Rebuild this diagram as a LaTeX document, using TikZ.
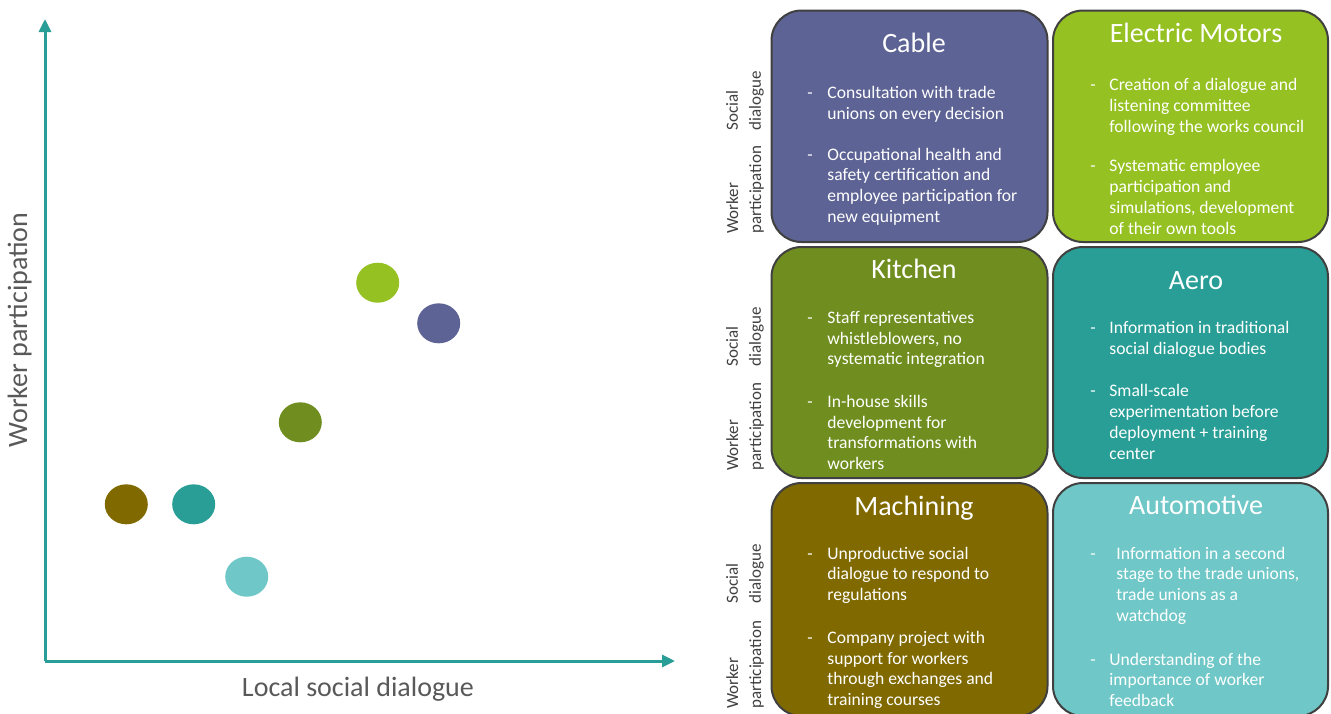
\documentclass[tikz,border=0pt]{standalone}
\usepackage{fontspec}
\setmainfont{Carlito}
\usetikzlibrary{shapes.geometric, arrows.meta}
\definecolor{cablec}{RGB}{93,99,148}
\definecolor{motorc}{RGB}{149,193,34}
\definecolor{kitchenc}{RGB}{112,142,31}
\definecolor{aeroc}{RGB}{40,158,150}
\definecolor{machc}{RGB}{128,106,0}
\definecolor{autoc}{RGB}{111,199,199}
\definecolor{edgec}{RGB}{64,64,64}
\definecolor{labelc}{RGB}{89,89,89}
\tikzset{
    card/.style={draw=edgec, line width=1pt, rounded corners=15pt},
    title/.style={anchor=base, text=white, font=\fontsize{14}{16}\selectfont, inner sep=0},
    % multi-line items sit on the baseline of their last line
    item/.style={anchor=base west, align=left, text=white, font=\fontsize{8.8}{10.4}\selectfont, inner sep=0},
    side/.style={anchor=west, rotate=90, align=left, text=edgec, font=\fontsize{8.5}{11.5}\selectfont, inner sep=0},
    dot/.style={ellipse, minimum width=21.5pt, minimum height=20pt, inner sep=0},
    axis/.style={draw=aeroc, line width=1.5pt, -{Triangle[length=6.5pt, width=6pt]}},
    axlabel/.style={text=labelc, font=\fontsize{14}{16}\selectfont, inner sep=0},
}

\begin{document}
\begin{tikzpicture}[x=0.5pt, y=-0.5pt]
\clip (0,0) rectangle (1331,713);
\fill[white] (0,0) rectangle (1331,713);

% Axes
\coordinate (o) at (45,661);
\coordinate (ytop) at (45,19);
\coordinate (xend) at (675,661);
\draw[axis] (o) -- (ytop);
\draw[axis] (o) -- (xend);
\node[axlabel, anchor=base, rotate=90] (ylab) at (27,330) {Worker participation};
\node[axlabel, anchor=base] (xlab) at (358,696) {Local social dialogue};

% Dots
\node[dot, fill=motorc] (dmotor) at (377.7,282.7) {};
\node[dot, fill=cablec] (dcable) at (438.7,323.3) {};
\node[dot, fill=kitchenc] (dkitchen) at (300.3,422.3) {};
\node[dot, fill=machc] (dmach) at (126.3,504.3) {};
\node[dot, fill=aeroc] (daero) at (193.7,504.3) {};
\node[dot, fill=autoc] (dauto) at (246.7,576.7) {};

% Cards
\draw[card, fill=cablec] (771.5,10.5) rectangle (1047.5,242);
\draw[card, fill=motorc] (1053,10.5) rectangle (1328,242);
\draw[card, fill=kitchenc] (771.5,247) rectangle (1047.5,478);
\draw[card, fill=aeroc] (1053,247) rectangle (1328,478);
\draw[card, fill=machc] (771.5,483) rectangle (1047.5,716);
\draw[card, fill=autoc] (1053,483) rectangle (1328,716);

% Row labels
\node[side] (sd1) at (745,131) {Social\\dialogue};
\node[side] (wp1) at (745,234) {Worker\\participation};
\node[side] (sd2) at (745,367) {Social\\dialogue};
\node[side] (wp2) at (745,471) {Worker\\participation};
\node[side] (sd3) at (745,604) {Social\\dialogue};
\node[side] (wp3) at (745,709) {Worker\\participation};

% Cable
\node[title] (tcable) at (914,52) {Cable};
\node[item] (c1d) at (807,98.3) {-};
\node[item] (c1) at (827,119.1) {Consultation with trade\\unions on every decision};
\node[item] (c2d) at (807,160) {-};
\node[item] (c2) at (827,222.4) {Occupational health and\\safety certification and\\employee participation for\\new equipment};

% Electric motors
\node[title] (tmotor) at (1196,42) {Electric Motors};
\node[item] (m1d) at (1090,90.7) {-};
\node[item] (m1) at (1109,132.3) {Creation of a dialogue and\\listening committee\\following the works council};
\node[item] (m2d) at (1090,171.7) {-};
\node[item] (m2) at (1109,234.1) {Systematic employee\\participation and\\simulations, development\\of their own tools};

% Kitchen
\node[title] (tkitchen) at (914,278) {Kitchen};
\node[item] (k1d) at (807,323.3) {-};
\node[item] (k1) at (827,364.9) {Staff representatives\\whistleblowers, no\\systematic integration};
\node[item] (k2d) at (807,407.3) {-};
\node[item] (k2) at (827,469.7) {In-house skills\\development for\\transformations with\\workers};

% Aero
\node[title] (taero) at (1196,289) {Aero};
\node[item] (a1d) at (1090,333.3) {-};
\node[item] (a1) at (1109,354.1) {Information in traditional\\social dialogue bodies};
\node[item] (a2d) at (1090,396.7) {-};
\node[item] (a2) at (1109,459.1) {Small-scale\\experimentation before\\deployment + training\\center};

% Machining
\node[title] (tmach) at (914,515) {Machining};
\node[item] (h1d) at (807,559) {-};
\node[item] (h1) at (827,600.6) {Unproductive social\\dialogue to respond to\\regulations};
\node[item] (h2d) at (807,643.3) {-};
\node[item] (h2) at (827,705.7) {Company project with\\support for workers\\through exchanges and\\training courses};

% Automotive
\node[title] (tauto) at (1196,514) {Automotive};
\node[item] (u1d) at (1090,559) {-};
\node[item] (u1) at (1116,621.4) {Information in a second\\stage to the trade unions,\\trade unions as a\\watchdog};
\node[item] (u2d) at (1090,665) {-};
\node[item] (u2) at (1109,706.6) {Understanding of the\\importance of worker\\feedback};

\end{tikzpicture}
\end{document}
